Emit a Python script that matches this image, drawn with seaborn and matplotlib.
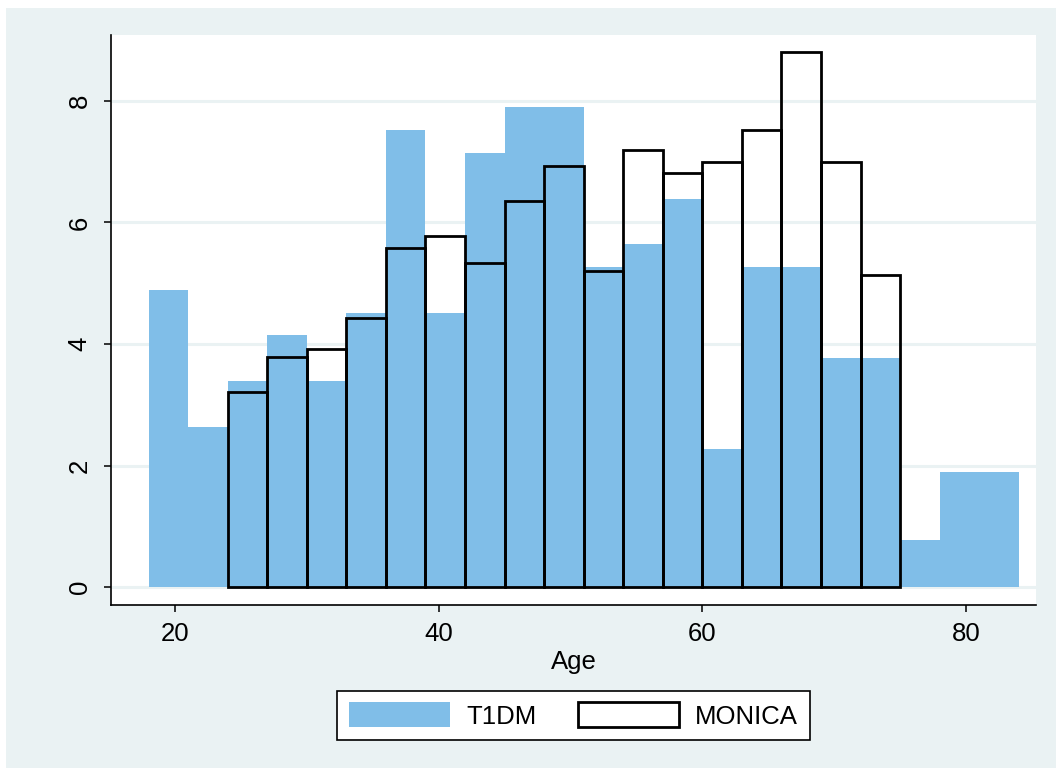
import numpy as np
import pandas as pd
import seaborn as sns
import matplotlib.pyplot as plt
from matplotlib.patches import Patch, Rectangle

# dati (altezza delle barre, larghezza bin = 3 anni)
bin_width = 3
t1dm_start = 18
t1dm_heights = [4.89, 2.63, 3.39, 4.15, 3.39, 4.51, 7.52, 4.51, 7.14, 7.90, 7.90,
                5.27, 5.65, 6.39, 2.27, 5.27, 5.27, 3.77, 3.77, 0.77, 1.89, 1.89]
monica_start = 24
monica_heights = [3.21, 3.79, 3.92, 4.43, 5.58, 5.78, 5.33, 6.35, 6.93, 5.20,
                  7.19, 6.81, 7.00, 7.52, 8.81, 7.00, 5.14]
labels = ['T1DM', 'MONICA']
x_ticks = [20, 40, 60, 80]
y_ticks = [0, 2, 4, 6, 8]

blue = '#80BEE8'
bg = '#EAF2F3'

t1dm_end = t1dm_start + bin_width * len(t1dm_heights)
monica_end = monica_start + bin_width * len(monica_heights)
df_t1dm = pd.DataFrame({'age': t1dm_start + bin_width * (np.arange(len(t1dm_heights)) + 0.5),
                        'h': t1dm_heights})
df_monica = pd.DataFrame({'age': monica_start + bin_width * (np.arange(len(monica_heights)) + 0.5),
                          'h': monica_heights})

plt.rcParams['font.family'] = ['Liberation Sans', 'DejaVu Sans']
fig = plt.figure(figsize=(10.56, 7.71), dpi=100, facecolor='white')
# sfondo della regione del grafico (stile Stata)
fig.patches.append(Rectangle((6 / 1056, 3 / 771), 1050 / 1056, 760 / 771,
                             transform=fig.transFigure, facecolor=bg,
                             edgecolor='none', zorder=-10))
ax = fig.add_axes([111 / 1056, 1 - 605 / 771, 925 / 1056, 570 / 771])
ax.set_facecolor('white')

sns.histplot(data=df_t1dm, x='age', weights='h', binwidth=bin_width,
             binrange=(t1dm_start, t1dm_end), ax=ax,
             color=blue, alpha=1, edgecolor='none', linewidth=0, zorder=2)
sns.histplot(data=df_monica, x='age', weights='h', binwidth=bin_width,
             binrange=(monica_start, monica_end), ax=ax,
             fill=False, color='black', linewidth=2, zorder=3)

ax.set_xlim(15.15, 85.31)
ax.set_ylim(-0.296, 9.086)
ax.set_xticks(x_ticks)
ax.set_yticks(y_ticks)
for y in y_ticks:
    ax.axhline(y, color=bg, linewidth=2.2, zorder=1)

for s in ['top', 'right']:
    ax.spines[s].set_visible(False)
for s in ['left', 'bottom']:
    ax.spines[s].set_color('black')
    ax.spines[s].set_linewidth(1.2)
ax.tick_params(axis='both', direction='out', length=5, width=1.1,
               labelsize=18.5, colors='black')
ax.tick_params(axis='y', labelrotation=90, pad=9)
ax.tick_params(axis='x', pad=7)
for lab in ax.get_yticklabels():
    lab.set_va('center')
ax.set_xlabel('Age', fontsize=18.5, labelpad=3)
ax.set_ylabel('')

handles = [Patch(facecolor=blue, edgecolor='none'),
           Patch(facecolor='white', edgecolor='black', linewidth=2)]
leg = fig.legend(handles, labels, ncol=2, loc='center',
                 bbox_to_anchor=(573.5 / 1056, 1 - 715.5 / 771),
                 fontsize=18.5, frameon=True, fancybox=False,
                 handlelength=3.95, handleheight=1.1, handletextpad=0.62,
                 columnspacing=1.6, borderpad=0.45)
leg.get_frame().set_edgecolor('black')
leg.get_frame().set_linewidth(1.2)
leg.get_frame().set_facecolor('white')
leg.get_frame().set_alpha(1)

fig.savefig('out.png', dpi=100, facecolor='white')
